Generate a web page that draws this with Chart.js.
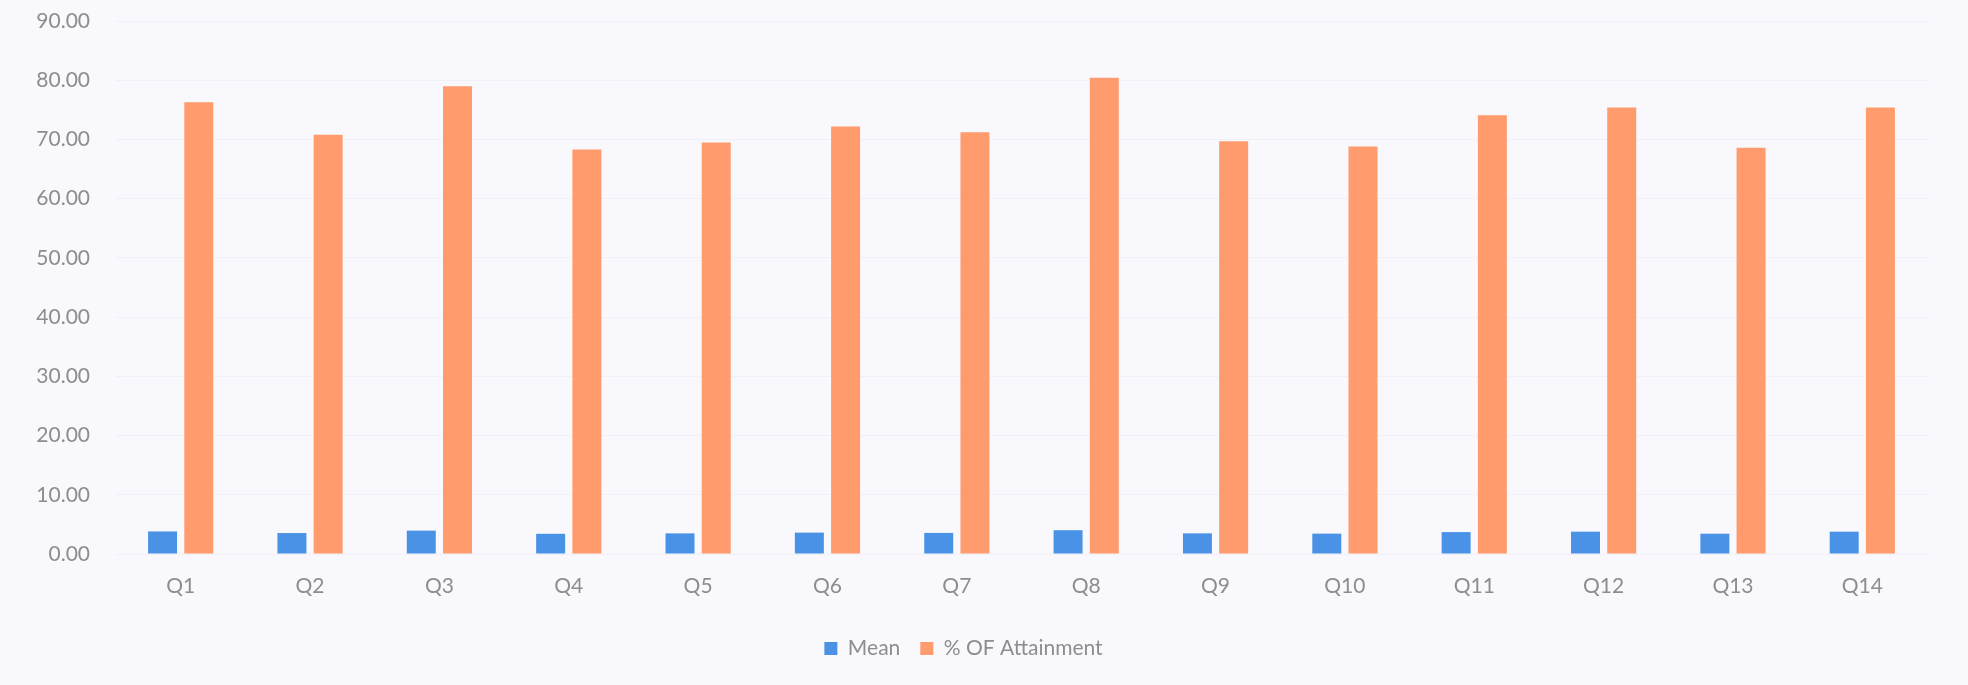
<!DOCTYPE html>
<html>
<head>
<meta charset="utf-8">
<script src="https://cdn.jsdelivr.net/npm/chart.js@4"></script>
<style>
  html, body { margin: 0; padding: 0; background: #f8f8fd; }
  #wrap { width: 1968px; height: 685px; }
</style>
</head>
<body>
<div id="wrap"><canvas id="chart" width="1968" height="685"></canvas></div>
<script>
// Data
const questions = ["Q1", "Q2", "Q3", "Q4", "Q5", "Q6", "Q7", "Q8", "Q9", "Q10", "Q11", "Q12", "Q13", "Q14"];
const meanValues = [3.81, 3.54, 3.95, 3.41, 3.48, 3.61, 3.56, 4.02, 3.49, 3.44, 3.70, 3.77, 3.43, 3.77];
const attainmentValues = [76.3, 70.8, 79.0, 68.3, 69.5, 72.2, 71.2, 80.4, 69.7, 68.8, 74.1, 75.4, 68.6, 75.4];
const yTicks = [0, 10, 20, 30, 40, 50, 60, 70, 80, 90];

const textColor = "#8d8d8d";
const fontFamily = "Lato, 'Open Sans', sans-serif";

const ctx = document.getElementById("chart").getContext("2d");
new Chart(ctx, {
  type: "bar",
  data: {
    labels: questions,
    datasets: [
      {
        label: "Mean",
        data: meanValues,
        backgroundColor: "#4a92e6",
        categoryPercentage: 0.56,
        barPercentage: 0.8,
      },
      {
        label: "% OF Attainment",
        data: attainmentValues,
        backgroundColor: "#ff9b6d",
        categoryPercentage: 0.56,
        barPercentage: 0.8,
      },
    ],
  },
  options: {
    responsive: false,
    animation: false,
    layout: { padding: { top: 21, right: 41, bottom: 16, left: 0 } },
    plugins: {
      legend: {
        position: "bottom",
        labels: {
          color: textColor,
          font: { family: fontFamily, size: 21 },
          boxWidth: 13,
          boxHeight: 13,
          padding: 20,
        },
      },
      tooltip: { enabled: false },
    },
    scales: {
      x: {
        grid: { display: false, drawTicks: false },
        border: { display: false },
        ticks: {
          color: textColor,
          font: { family: fontFamily, size: 21 },
          padding: 20,
        },
        afterFit: function (scale) {
          scale.height = 64;
        },
      },
      y: {
        min: 0,
        max: 90,
        afterBuildTicks: function (scale) {
          scale.ticks = yTicks.map(function (v) {
            return { value: v };
          });
        },
        // invisible tick marks keep the labels off the plot without extra top padding
        grid: { color: "#f0f0f6", drawTicks: true, tickLength: 26, tickColor: "transparent" },
        border: { display: false },
        ticks: {
          color: textColor,
          font: { family: fontFamily, size: 21 },
          padding: 0,
          callback: function (v) {
            return Number(v).toFixed(2);
          },
        },
        afterFit: function (scale) {
          scale.width = 116;
        },
      },
    },
  },
});
</script>
</body>
</html>
